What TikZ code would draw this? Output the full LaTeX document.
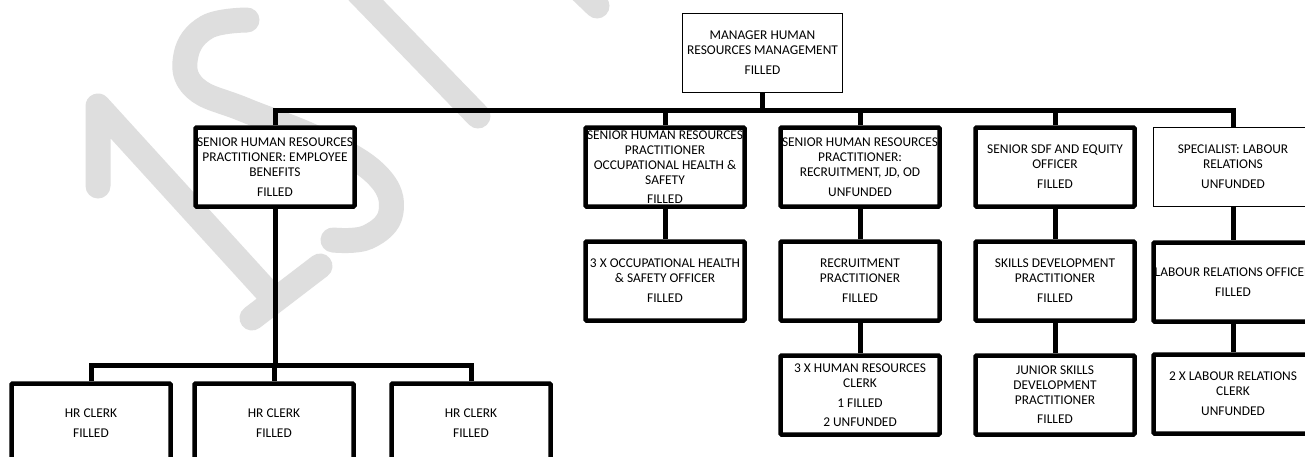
\documentclass[tikz,border=0pt]{standalone}
\usepackage{fontspec}
\setmainfont{Carlito}
\tikzset{
  box/.style={draw, line width=4.5pt, fill=white, minimum width=159pt, minimum height=79pt, inner sep=0pt, rounded corners=1pt},
  thinbox/.style={draw, line width=1pt, fill=white, minimum width=160pt, minimum height=79pt, inner sep=0pt},
  txt/.style={align=center, inner sep=0pt, font=\fontsize{13.4}{15}\selectfont},
  conn/.style={line width=5pt},
  wm/.style={draw=black!13, line width=25pt, line cap=round, line join=round},
}
\begin{document}
\begin{tikzpicture}[x=1pt,y=-1pt]
\useasboundingbox (0,0) rectangle (1305,456);
\clip (0,0) rectangle (1305,456);
\fill[white] (0,0) rectangle (1305,456);
% watermark
\draw[wm] (98,186) -- (98,106) -- (272,297);
\draw[wm] (252,318) -- (320,266);
\draw[wm] plot[smooth, tension=0.7] coordinates {(247,20) (207,27) (186,55) (195,88) (245,110) (320,140) (377,175) (391,212) (368,237) (333,240)};
\draw[wm] (356,-10) -- (478,116);
\draw[wm] (572,-18) -- (597,6);
% boxes
\node[thinbox] (mgr) at (762.5,53) {};
\node[txt] (mgr-t) at (mgr) {MANAGER HUMAN\\RESOURCES MANAGEMENT\\[5pt]FILLED};
\node[box] (eb) at (275,167) {};
\node[txt] (eb-t) at (eb) {SENIOR HUMAN RESOURCES\\PRACTITIONER: EMPLOYEE\\BENEFITS\\[5pt]FILLED};
\node[box] (ohs) at (665,167) {};
\node[txt] (ohs-t) at (ohs) {SENIOR HUMAN RESOURCES\\PRACTITIONER\\OCCUPATIONAL HEALTH \&\\SAFETY\\[4pt]FILLED};
\node[box] (rec) at (860,167) {};
\node[txt] (rec-t) at (rec) {SENIOR HUMAN RESOURCES\\PRACTITIONER:\\RECRUITMENT, JD, OD\\[5pt]UNFUNDED};
\node[box] (sdf) at (1055,167) {};
\node[txt] (sdf-t) at (sdf) {SENIOR SDF AND EQUITY\\OFFICER\\[5pt]FILLED};
\node[thinbox] (spec) at (1233,166.5) {};
\node[txt] (spec-t) at (spec) {SPECIALIST: LABOUR\\RELATIONS\\[5pt]UNFUNDED};
\node[box] (ohs2) at (665,281) {};
\node[txt] (ohs2-t) at (ohs2) {3 X OCCUPATIONAL HEALTH\\\& SAFETY OFFICER\\[5pt]FILLED};
\node[box] (rec2) at (860,281) {};
\node[txt] (rec2-t) at (rec2) {RECRUITMENT\\PRACTITIONER\\[5pt]FILLED};
\node[box] (sdf2) at (1055,281) {};
\node[txt] (sdf2-t) at (sdf2) {SKILLS DEVELOPMENT\\PRACTITIONER\\[5pt]FILLED};
\node[box] (lab2) at (1233,282) {};
\node[txt] (lab2-t) at (lab2) {LABOUR RELATIONS OFFICER\\[5pt]FILLED};
\node[box] (rec3) at (860,395) {};
\node[txt] (rec3-t) at (rec3) {3 X HUMAN RESOURCES\\CLERK\\[5pt]1 FILLED\\[4pt]2 UNFUNDED};
\node[box] (sdf3) at (1055,395) {};
\node[txt] (sdf3-t) at (sdf3) {JUNIOR SKILLS\\DEVELOPMENT\\PRACTITIONER\\[4pt]FILLED};
\node[box] (lab3) at (1233,394) {};
\node[txt] (lab3-t) at (lab3) {2 X LABOUR RELATIONS\\CLERK\\[5pt]UNFUNDED};
\node[box] (c1) at (91,423) {};
\node[txt] (c1-t) at (c1) {HR CLERK\\[5pt]FILLED};
\node[box] (c2) at (274,423) {};
\node[txt] (c2-t) at (c2) {HR CLERK\\[5pt]FILLED};
\node[box] (c3) at (471,423) {};
\node[txt] (c3-t) at (c3) {HR CLERK\\[5pt]FILLED};
% connectors
\coordinate (bus) at (700,110);
\coordinate (cbus) at (275,365);
\draw[conn] (eb.north) |- (bus) -| (spec.north);
\draw[conn] (mgr.south) -- (mgr.south |- bus);
\draw[conn] (ohs.north) -- (ohs.north |- bus);
\draw[conn] (rec.north) -- (rec.north |- bus);
\draw[conn] (sdf.north) -- (sdf.north |- bus);
\draw[conn] (ohs.south) -- (ohs2.north);
\draw[conn] (rec.south) -- (rec2.north);
\draw[conn] (rec2.south) -- (rec3.north);
\draw[conn] (sdf.south) -- (sdf2.north);
\draw[conn] (sdf2.south) -- (sdf3.north);
\draw[conn] (spec.south) -- (lab2.north);
\draw[conn] (lab2.south) -- (lab3.north);
\draw[conn] (eb.south) -- (cbus);
\draw[conn] (c1.north) |- (cbus) -| (c3.north);
\draw[conn] (c2.north) -- (c2.north |- cbus);
\end{tikzpicture}
\end{document}
